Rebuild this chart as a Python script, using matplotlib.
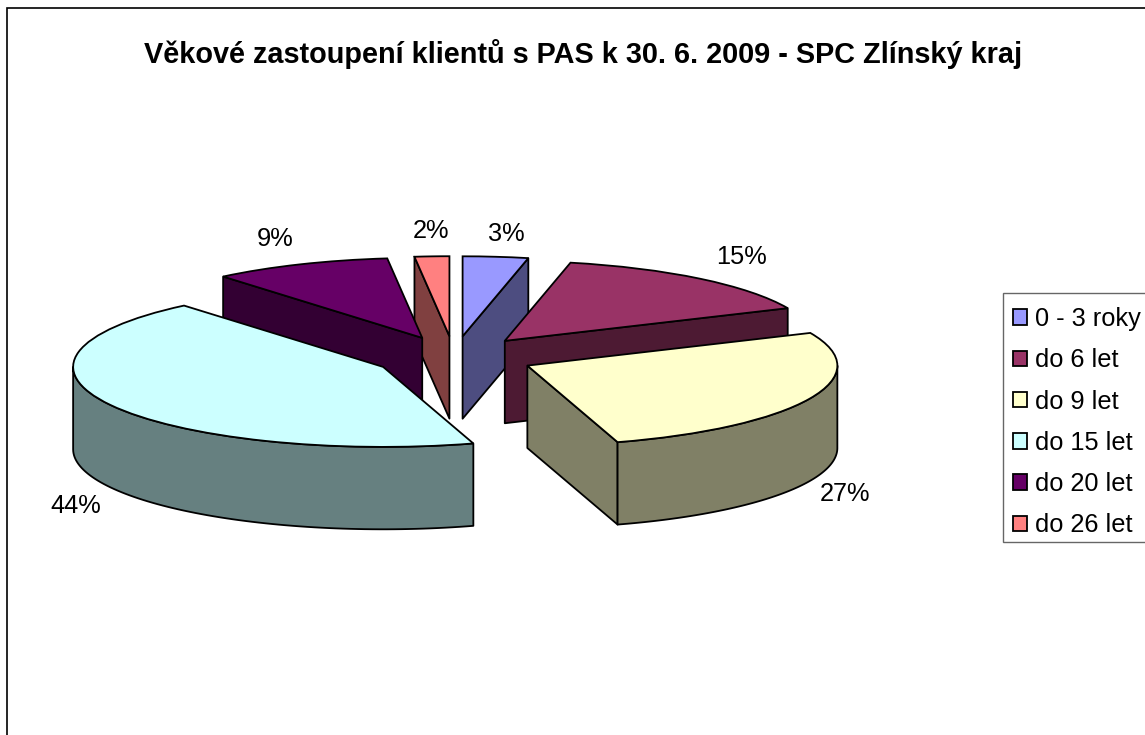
import numpy as np
import matplotlib
matplotlib.use("Agg")
import matplotlib.pyplot as plt
from matplotlib.patches import Rectangle
from matplotlib.colors import to_rgb

plt.rcParams['font.family'] = ['Liberation Sans', 'DejaVu Sans']

title = "Věkové zastoupení klientů s PAS k 30. 6. 2009 - SPC Zlínský kraj"
categories = ["0 - 3 roky", "do 6 let", "do 9 let", "do 15 let", "do 20 let", "do 26 let"]
values = [3.4, 14.9, 27.0, 43.6, 9.3, 1.8]
pct_labels = ["3%", "15%", "27%", "44%", "9%", "2%"]
colors = ["#9999FF", "#993366", "#FFFFCC", "#CCFFFF", "#660066", "#FF8080"]

W, H = 1145, 735
# layout: pie centre and ellipse radii in pixels
CX, CY, RX, RY = 454.0, 357.0, 310.0, 80.0
EXPLODE = 0.26
DEPTH = 1.03
LW = 1.3
label_px = [(506, 234), (741, 257), (845, 494), (76, 506), (275, 239), (431, 231)]
# paint order, back to front
order = [5, 4, 3, 0, 1, 2]

fig = plt.figure(figsize=(W / 100, H / 100), dpi=100, facecolor="white")
ax = fig.add_axes([0, 0, 1, 1])

wedges, _ = ax.pie(values, explode=[EXPLODE] * len(values), colors=colors,
                   startangle=90, counterclock=False, radius=1,
                   wedgeprops=dict(edgecolor="black", linewidth=LW))
ax.set_aspect("auto")
ax.set_xlim(-CX / RX, (W - CX) / RX)
ax.set_ylim((CY - H) / RY, CY / RY)
ax.set_axis_off()


def pt(th, ox, oy, r=1.0, dz=0.0):
    return ox + r * np.sin(th), oy + r * np.cos(th) - dz


def dark(c):
    return tuple(0.5 * v for v in to_rgb(c))


def wall(xs, ys, color, z):
    ax.fill(xs, ys, facecolor=dark(color), edgecolor="black", linewidth=LW,
            joinstyle="round", zorder=z)


fractions = np.array(values) / sum(values)
stops = np.concatenate([[0], np.cumsum(fractions)]) * 2 * np.pi

for rank, i in enumerate(order):
    t0, t1 = stops[i], stops[i + 1]
    mid = 0.5 * (t0 + t1)
    ox, oy = EXPLODE * np.sin(mid), EXPLODE * np.cos(mid)
    z = 10 + rank * 2
    c = colors[i]
    # radial walls facing the viewer
    for th, front in ((t0, np.pi < t0 < 2 * np.pi), (t1, 0 < t1 < np.pi)):
        if front:
            x1, y1 = pt(th, ox, oy)
            wall([ox, x1, x1, ox], [oy, y1, y1 - DEPTH, oy - DEPTH], c, z)
    # outer wall, lower half of the rim only
    a0, a1 = max(t0, np.pi / 2), min(t1, 3 * np.pi / 2)
    if a1 > a0:
        th = np.linspace(a0, a1, 80)
        xt, yt = pt(th, ox, oy)
        wall(np.r_[xt, xt[::-1]], np.r_[yt, yt[::-1] - DEPTH], c, z)
    wedges[i].set_zorder(z + 1)

fig.add_artist(Rectangle((7 / W, -0.05), 1.1, 1.05 - 8 / H, transform=fig.transFigure,
                         facecolor="none", edgecolor="black", linewidth=1.2))

fig.text(583 / W, 1 - 54 / H, title, ha="center", va="center",
         fontsize=20.75, fontweight="bold", color="black")

for (px, py), s in zip(label_px, pct_labels):
    fig.text(px / W, 1 - py / H, s, ha="center", va="center", fontsize=18.3, color="black")

# legend frame runs off the right edge of the canvas
fig.add_artist(Rectangle((1003 / W, 1 - 542 / H), 0.2, 249 / H, transform=fig.transFigure,
                         facecolor="white", edgecolor="#666666", linewidth=1.0))
leg = fig.legend(wedges, categories, loc="upper left",
                 bbox_to_anchor=(1013 / W, 1 - 307 / H), bbox_transform=fig.transFigure,
                 fontsize=18.3, frameon=False, borderaxespad=0, borderpad=0,
                 labelspacing=0.68, handlelength=0.56, handleheight=0.56,
                 handletextpad=0.32)

fig.savefig("out.png", dpi=100)
